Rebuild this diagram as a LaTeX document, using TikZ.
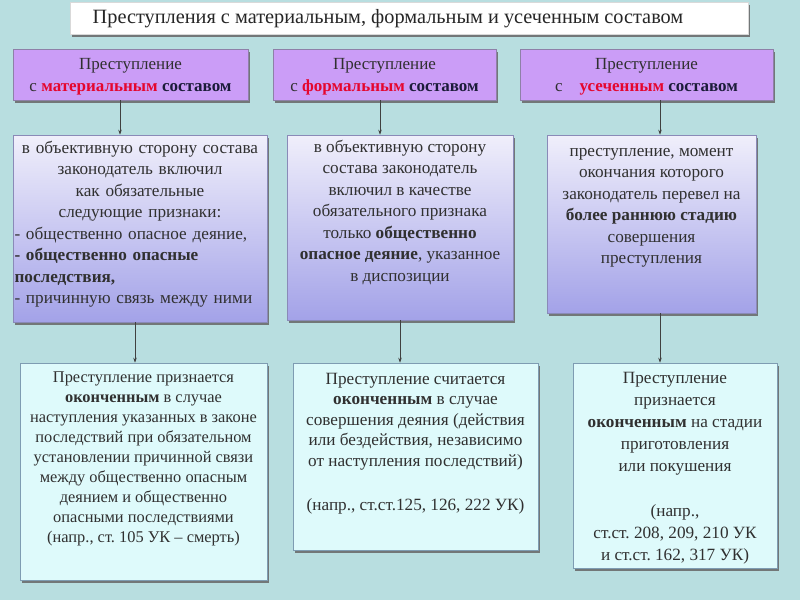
\documentclass[tikz,border=0pt]{standalone}
\usepackage{fontspec}
\setmainfont{Liberation Serif}
\frenchspacing
\usetikzlibrary{shadows,arrows.meta}
\definecolor{bg}{HTML}{B8DEE0}
\definecolor{topfill}{HTML}{CB9DF7}
\definecolor{topline}{HTML}{8E80A8}
\definecolor{midtop}{HTML}{F0EFFB}
\definecolor{midbot}{HTML}{A3A2E8}
\definecolor{midline}{HTML}{8A8AB8}
\definecolor{botfill}{HTML}{DEFAFB}
\definecolor{botline}{HTML}{7E9CB2}
\definecolor{txt}{HTML}{303030}
\definecolor{redw}{HTML}{E5062E}
\definecolor{navyw}{HTML}{1C1C3A}
\begin{document}
\begin{tikzpicture}[x=1pt,y=-1pt,
  shad/.style={drop shadow={shadow xshift=2pt,shadow yshift=-3pt,fill=black!60,opacity=0.85}},
  titlebox/.style={draw=black!15,fill=white,shad,inner sep=0pt},
  topbox/.style={draw=topline,fill=topfill,line width=0.6pt,shad,inner sep=0pt},
  midbox/.style={draw=midline,top color=midtop,bottom color=midbot,line width=0.6pt,shad,inner sep=0pt},
  botbox/.style={draw=botline,fill=botfill,line width=0.6pt,shad,inner sep=0pt},
  txtnode/.style={text=txt,font=\fontsize{17.2}{21.5}\selectfont,align=center,inner sep=0pt},
  arr/.style={draw=black!75,line width=0.7pt,-{Stealth[length=5pt,width=3.5pt]}}
]
\fill[bg] (0,0) rectangle (800,600);
\useasboundingbox (0,0) rectangle (800,600);

% title
\node[titlebox,minimum width=678pt,minimum height=32pt] (title) at (409,18) {};
\node[txtnode,font=\fontsize{20.3}{24}\selectfont,text=black!85] (titletext) at ([xshift=-21pt,yshift=-1pt]title.center) {Преступления с материальным, формальным и усеченным составом};

% top boxes
\node[topbox,minimum width=235pt,minimum height=51pt] (p1) at (130.5,74.5) {};
\node[topbox,minimum width=223pt,minimum height=51pt] (p2) at (384.5,74.5) {};
\node[topbox,minimum width=253pt,minimum height=51pt] (p3) at (646.5,74.5) {};
\node[txtnode,font=\fontsize{17}{22}\selectfont] (pt1) at ([yshift=-2pt]p1.center) {Преступление\\ с {\bfseries\color{redw}материальным} {\bfseries\color{navyw}составом}};
\node[txtnode,font=\fontsize{17}{22}\selectfont] (pt2) at ([yshift=-2pt]p2.center) {Преступление\\ с {\bfseries\color{redw}формальным} {\bfseries\color{navyw}составом}};
\node[txtnode,font=\fontsize{17}{22}\selectfont] (pt3) at ([yshift=-2pt]p3.center) {Преступление\\ с\quad {\bfseries\color{redw}усеченным} {\bfseries\color{navyw}составом}};

% middle boxes
\node[midbox,minimum width=254pt,minimum height=187pt] (b4) at (140,228.5) {};
\node[midbox,minimum width=226pt,minimum height=185pt] (b5) at (400,227.5) {};
\node[midbox,minimum width=209pt,minimum height=178pt] (b6) at (651.5,224) {};

\node[txtnode,anchor=north,text width=251pt,align=left] (bt4) at ([yshift=-6pt]b4.north) {%
{\centering в объективную сторону состава\\ законодатель включил\\ как обязательные\\ следующие признаки:\par}
\raggedright - общественно опасное деяние,\\ {\bfseries - общественно опасные\\ последствия,}\\ - причинную связь между ними};
\node[txtnode,anchor=north] (bt5) at ([yshift=-5pt]b5.north) {в объективную сторону\\ состава законодатель\\ включил в качестве\\ обязательного признака\\ только \textbf{общественно}\\ \textbf{опасное деяние}, указанное\\ в диспозиции};
\node[txtnode,anchor=north] (bt6) at ([yshift=-13pt]b6.north) {преступление, момент\\ окончания которого\\ законодатель перевел на\\ \textbf{более раннюю стадию}\\ совершения\\ преступления};

% bottom boxes
\node[botbox,minimum width=247pt,minimum height=217pt] (c7) at (143.5,471.5) {};
\node[botbox,minimum width=245pt,minimum height=187pt] (c8) at (415.5,456.5) {};
\node[botbox,minimum width=204pt,minimum height=205pt] (c9) at (675,465.5) {};

\node[txtnode,anchor=north,font=\fontsize{16.4}{20}\selectfont] (ct7) at ([yshift=-9pt]c7.north) {Преступление признается\\ \textbf{оконченным} в случае\\ наступления указанных в законе\\ последствий при обязательном\\ установлении причинной связи\\ между общественно опасным\\ деянием и общественно\\ опасными последствиями\\ (напр., ст. 105 УК – смерть)};
\node[txtnode,anchor=north,font=\fontsize{17.2}{20.5}\selectfont] (ct8) at ([yshift=-10pt]c8.north) {Преступление считается\\ \textbf{оконченным} в случае\\ совершения деяния (действия\\ или бездействия, независимо\\ от наступления последствий)\\[24pt] (напр., ст.ст.125, 126, 222 УК)};
\node[txtnode,anchor=north,font=\fontsize{17.2}{22}\selectfont] (ct9) at ([yshift=-9pt]c9.north) {Преступление\\ признается\\ \textbf{оконченным} на стадии\\ приготовления\\ или покушения\\[23pt] (напр.,\\ ст.ст. 208, 209, 210 УК\\ и ст.ст. 162, 317 УК)};

% connectors
\coordinate (x1) at (120,0);
\coordinate (x2) at (380,0);
\coordinate (x3) at (660,0);
\coordinate (y1) at (135,0);
\coordinate (y2) at (400,0);
\coordinate (y3) at (660,0);
\draw[arr] (p1.south -| x1) -- (b4.north -| x1);
\draw[arr] (p2.south -| x2) -- (b5.north -| x2);
\draw[arr] (p3.south -| x3) -- (b6.north -| x3);
\draw[arr] (b4.south -| y1) -- (c7.north -| y1);
\draw[arr] (b5.south -| y2) -- (c8.north -| y2);
\draw[arr] (b6.south -| y3) -- (c9.north -| y3);
\end{tikzpicture}
\end{document}
